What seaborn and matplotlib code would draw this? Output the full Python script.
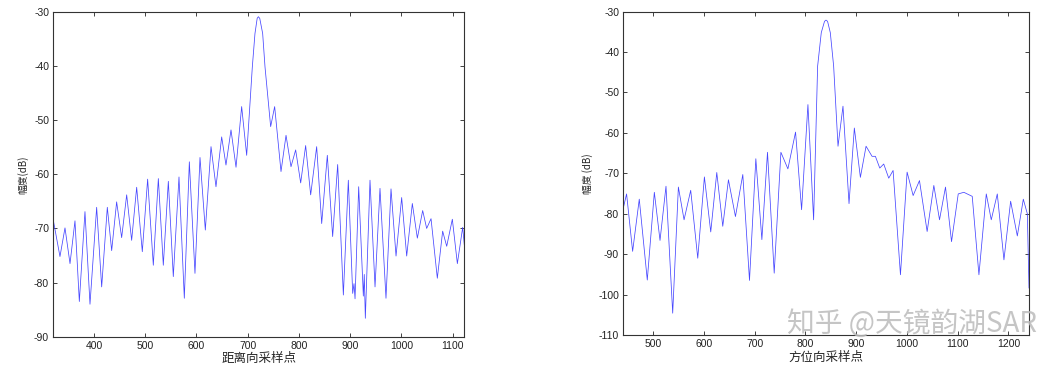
import numpy as np
import pandas as pd
import seaborn as sns
import matplotlib.pyplot as plt

# range profile (distance direction) - extrema
range_x = [320.6, 333.6, 343.4, 353.2, 362.9, 371.4, 382.4, 392.2, 405.2, 415.0,
           426.0, 434.5, 444.2, 454.0, 463.8, 473.5, 483.3, 494.3, 504.7, 515.8,
           525.6, 535.3, 545.1, 554.8, 565.9, 576.3, 586.1, 597.1, 606.9, 617.3,
           628.4, 638.1, 649.2, 657.6, 667.4, 677.2, 688.2, 698.0, 709.0, 714.2,
           718.5, 720.8, 723.5, 729.2, 733.8, 744.8, 752.6, 765.0, 774.8, 784.5,
           793.6, 803.4, 813.1, 822.9, 834.6, 844.4, 855.4, 865.8, 875.6, 886.7,
           896.4, 904.9, 907.5, 909.5, 916.6, 925.7, 927.5, 929.6, 938.7, 948.5,
           958.2, 969.9, 979.7, 989.5, 1000.5, 1010.3, 1021.3, 1031.1, 1041.5, 1049.3,
           1057.8, 1070.1, 1080.5, 1088.4, 1099.4, 1109.2, 1119.6, 1122.8]
range_db = [-68.5, -75.2, -69.9, -76.5, -68.6, -83.5, -66.9, -84.0, -66.1, -80.8,
            -66.1, -74.1, -65.1, -71.7, -63.8, -72.2, -62.4, -74.3, -60.9, -76.8,
            -60.8, -76.8, -61.3, -78.9, -60.5, -82.9, -57.7, -78.3, -56.9, -70.3,
            -54.9, -62.3, -53.1, -58.3, -51.8, -58.7, -47.5, -56.5, -40.2, -34.0,
            -31.2, -30.9, -31.2, -34.0, -40.2, -51.2, -47.5, -59.5, -52.8, -58.6,
            -55.5, -61.6, -54.7, -63.8, -54.9, -69.1, -56.5, -71.5, -58.2, -82.3,
            -61.1, -82.0, -80.2, -83.0, -62.3, -82.5, -78.5, -86.6, -61.1, -80.8,
            -62.6, -82.9, -62.7, -75.1, -64.3, -75.1, -65.4, -71.8, -66.7, -70.0,
            -68.2, -79.2, -70.5, -73.3, -68.3, -76.5, -69.8, -73.1]

# azimuth profile - extrema
azi_x = [440.8, 447.3, 459.2, 472.3, 488.1, 502.0, 513.2, 525.0, 538.2, 549.4,
         560.6, 573.7, 587.6, 600.7, 613.2, 625.1, 636.9, 648.1, 661.9, 676.4,
         689.6, 702.1, 714.0, 725.1, 738.3, 751.5, 765.3, 780.4, 792.3, 804.8,
         816.0, 823.9, 831.1, 837.5, 840.4, 843.5, 848.9, 855.5, 864.1, 873.9,
         885.8, 896.3, 908.2, 919.4, 931.2, 937.8, 946.4, 954.2, 964.1, 972.7,
         987.2, 1000.3, 1012.2, 1024.7, 1039.8, 1053.0, 1064.2, 1076.0, 1087.9, 1101.1,
         1112.2, 1128.7, 1141.9, 1156.4, 1166.2, 1178.1, 1191.2, 1204.4, 1217.6, 1229.4,
         1237.3, 1240.6]
azi_db = [-78.6, -75.1, -89.3, -76.4, -96.4, -74.7, -86.6, -73.2, -104.6, -73.4,
          -81.5, -74.2, -91.0, -70.9, -84.5, -69.8, -83.1, -71.6, -80.7, -70.3,
          -96.5, -66.4, -86.4, -64.8, -94.7, -64.8, -68.9, -59.8, -79.0, -53.0,
          -81.5, -43.5, -35.2, -32.4, -32.1, -32.4, -35.2, -43.5, -63.3, -53.4,
          -77.5, -58.8, -71.0, -63.3, -65.8, -65.8, -68.7, -67.7, -71.2, -69.3,
          -95.1, -69.7, -75.5, -71.8, -84.4, -73.0, -81.5, -73.4, -86.9, -75.1,
          -74.7, -75.7, -95.1, -75.1, -81.5, -75.1, -91.4, -76.9, -85.5, -76.4,
          -80.0, -98.4]

range_ticks = [400, 500, 600, 700, 800, 900, 1000, 1100]
azi_ticks = [500, 600, 700, 800, 900, 1000, 1100, 1200]

sns.set_style("white")
plt.rcParams['font.family'] = ['Liberation Sans', 'Noto Sans CJK SC']
plt.rcParams['axes.unicode_minus'] = False
cjk = ['Noto Sans CJK SC', 'DejaVu Sans']

fig = plt.figure(figsize=(10.64, 3.70), dpi=100)
ax1 = fig.add_axes([0.0501, 0.090, 0.3863, 0.878])
ax2 = fig.add_axes([0.5858, 0.0946, 0.3813, 0.874])

df_r = pd.DataFrame({'x': range_x, 'db': range_db})
df_a = pd.DataFrame({'x': azi_x, 'db': azi_db})
sns.lineplot(data=df_r, x='x', y='db', ax=ax1, color='#4646ff', lw=0.55, sort=False, estimator=None)
sns.lineplot(data=df_a, x='x', y='db', ax=ax2, color='#4646ff', lw=0.55, sort=False, estimator=None)

for ax, xt, ylim, yt, xl, yl in [
        (ax1, range_ticks, (-90, -30), range(-90, -29, 10), '距离向采样点', '幅度(dB)'),
        (ax2, azi_ticks, (-110, -30), range(-110, -29, 10), '方位向采样点', '幅度 (dB)')]:
    ax.set_ylim(*ylim)
    ax.set_xticks(xt)
    ax.set_yticks(list(yt))
    ax.tick_params(direction='in', length=3, width=0.6, labelsize=7.5, colors='#222222',
                   top=True, right=True, bottom=True, left=True, pad=3)
    for s in ax.spines.values():
        s.set_color('#333333')
        s.set_linewidth(0.8)
    ax.set_xlabel(xl, fontsize=9, family=cjk, labelpad=1)
    ax.set_ylabel(yl, fontsize=7, family=cjk, labelpad=4)

ax1.set_xlim(320.6, 1122.8)
ax2.set_xlim(440.8, 1240.6)

fig.text(0.975, 0.085, '知乎 @天镜韵湖SAR', ha='right', va='bottom', fontsize=20,
         family=cjk, color='#bbbbbb', alpha=0.85)

plt.savefig('out.png', dpi=100)
